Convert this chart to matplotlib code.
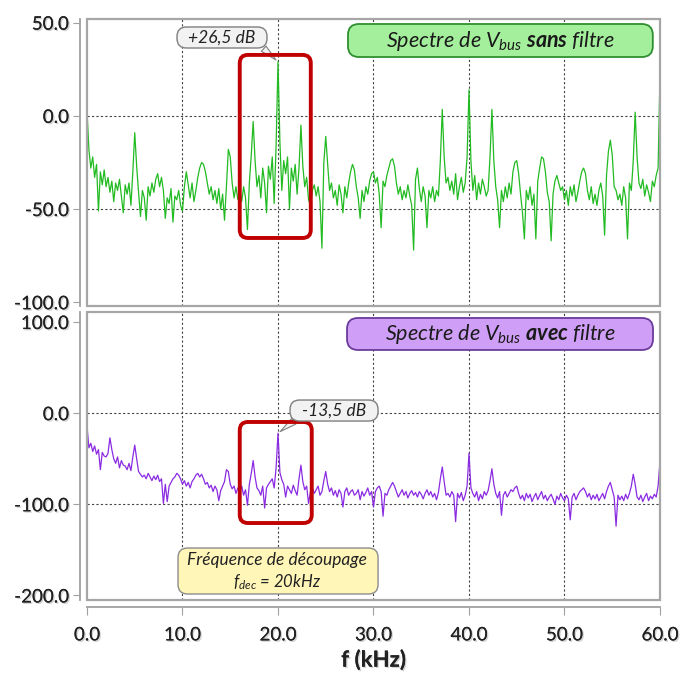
import numpy as np
import matplotlib
matplotlib.use("Agg")
import matplotlib.pyplot as plt
from matplotlib.patches import FancyBboxPatch, Rectangle
import matplotlib.patheffects as pe

plt.rcParams['font.family'] = ['Lato', 'DejaVu Sans']
plt.rcParams['mathtext.fontset'] = 'custom'
plt.rcParams['mathtext.it'] = 'Lato:italic'
plt.rcParams['mathtext.rm'] = 'Lato:italic'
plt.rcParams['mathtext.bf'] = 'Lato:italic:bold'

# frequency axis, kHz (one value every 0.2 kHz)
freq = np.arange(301) * 0.2

# spectre de Vbus sans filtre (dB)
sans_filtre = [
    3, -18, -28, -22, -33, -26, -51, -30, -37, -29,
    -38, -33, -41, -35, -46, -36, -40, -34, -43, -52,
    -37, -42, -36, -48, -30, -9, -27, -41, -54, -40,
    -44, -56, -38, -43, -36, -41, -34, -31, -38, -33,
    -40, -55, -44, -47, -39, -57, -43, -45, -40, -48,
    -51, -38, -30, -37, -44, -36, -46, -40, -33, -28,
    -25, -26, -30, -36, -42, -38, -45, -40, -47, -39,
    -50, -42, -56, -38, -18, -22, -36, -44, -38, -45,
    -40, -46, -38, -44, -61, -36, -21, -3, -24, -38,
    -32, -44, -28, -36, -52, -27, -34, -22, -47, -16,
    29, -14, -40, -24, -31, -22, -50, -28, -35, -26,
    -42, -28, -5, -27, -38, -33, -45, -48, -40, -37,
    -43, -38, -46, -71, -25, -11, -26, -40, -36, -44,
    -40, -48, -37, -42, -52, -38, -44, -36, -30, -26,
    -29, -38, -44, -55, -40, -46, -38, -42, -35, -31,
    -30, -36, -33, -42, -60, -35, -38, -32, -28, -24,
    -23, -27, -36, -42, -38, -45, -40, -44, -37, -43,
    -48, -72, -34, -28, -39, -46, -38, -43, -60, -40,
    -44, -38, -46, -40, -43, -24, 3.5, -22, -36, -33,
    -40, -35, -42, -31, -45, -38, -33, -41, -36, -22,
    14, -24, -40, -32, -45, -36, -42, -34, -38, -43,
    -40, -22, 3.5, -24, -38, -45, -60, -40, -46, -38,
    -44, -36, -42, -30, -25, -24, -31, -42, -52, -66,
    -40, -45, -38, -48, -42, -66, -35, -28, -22, -23,
    -30, -41, -46, -67, -42, -35, -32, -36, -40, -38,
    -45, -40, -48, -38, -43, -37, -46, -41, -35, -30,
    -28, -31, -40, -45, -38, -47, -42, -48, -40, -36,
    -43, -64, -32, -19, -13, -21, -38, -40, -45, -42,
    -48, -38, -44, -66, -36, -40, -24, 2, -22, -36,
    -39, -34, -43, -37, -41, -46, -35, -38, -32, -28,
    22,
]

# spectre de Vbus avec filtre (dB)
avec_filtre = [
    -14, -38, -33, -42, -36, -45, -40, -62, -43, -47,
    -48, -44, -27, -40, -50, -55, -48, -60, -52, -57,
    -58, -62, -55, -63, -48, -35, -50, -64, -67, -70,
    -68, -72, -66, -70, -74, -69, -73, -68, -75, -72,
    -99, -78, -97, -80, -76, -72, -70, -66, -68, -72,
    -78, -74, -80, -76, -82, -75, -72, -68, -66, -70,
    -67, -72, -78, -76, -82, -79, -86, -80, -84, -96,
    -85, -80, -75, -62, -64, -78, -83, -80, -88, -82,
    -86, -80, -90, -84, -101, -78, -66, -52, -70, -82,
    -85, -90, -80, -104, -82, -78, -75, -72, -82, -60,
    -22, -65, -73, -78, -92, -80, -84, -88, -79, -85,
    -90, -72, -57, -75, -84, -80, -99, -86, -82, -88,
    -84, -80, -90, -86, -74, -64, -78, -86, -82, -90,
    -85, -92, -84, -88, -103, -86, -82, -90, -86, -84,
    -90, -88, -84, -95, -86, -91, -87, -82, -90, -86,
    -103, -86, -82, -80, -86, -113, -88, -90, -84, -80,
    -76, -80, -86, -92, -88, -84, -90, -86, -93, -88,
    -85, -90, -87, -92, -86, -89, -94, -88, -84, -90,
    -86, -92, -88, -95, -87, -72, -59, -75, -90, -88,
    -92, -86, -90, -119, -88, -93, -87, -96, -90, -80,
    -44, -82, -88, -92, -86, -96, -89, -94, -86, -90,
    -85, -74, -61, -78, -88, -93, -86, -112, -90, -86,
    -92, -88, -84, -86, -82, -80, -88, -94, -90, -96,
    -88, -93, -89, -97, -92, -88, -95, -90, -86, -94,
    -90, -96, -92, -89, -94, -100, -91, -95, -88, -93,
    -96, -90, -94, -117, -92, -88, -95, -90, -86, -84,
    -82, -86, -92, -88, -95, -90, -94, -89, -96, -92,
    -88, -94, -86, -80, -76, -84, -92, -124, -90, -95,
    -91, -96, -89, -94, -88, -80, -67, -78, -92, -95,
    -90, -97, -92, -88, -96, -91, -94, -89, -92, -80,
    -53,
]

xticks = [0, 10, 20, 30, 40, 50, 60]
yticks_top = [50, 0, -50, -100]
yticks_bot = [100, 0, -100, -200]

fig = plt.figure(figsize=(6.85, 6.78), dpi=100)
ax1 = fig.add_axes([0.127, 0.5487, 0.8365, 0.4233])
ax2 = fig.add_axes([0.127, 0.115, 0.8365, 0.4248])

shadow = [pe.withSimplePatchShadow(offset=(1, -1), shadow_rgbFace='0.5', alpha=0.35), pe.Normal()]
grid_kw = dict(color='#444444', lw=0.8, ls=(0, (2, 2)), zorder=1)

for ax, y, col, ylim, yt, hgrid in [
        (ax1, sans_filtre, '#22bb22', (-102, 52), yticks_top, [0, -50]),
        (ax2, avec_filtre, '#8a2be2', (-205, 111), yticks_bot, [0, -100])]:
    ax.plot(freq, y, color=col, lw=0.9, zorder=2)
    ax.set_xlim(0, 60)
    ax.set_ylim(*ylim)
    ax.set_yticks(yt)
    ax.set_yticklabels(['%.1f' % v for v in yt])
    for v in xticks[1:-1]:
        ax.axvline(v, **grid_kw)
    for v in hgrid:
        ax.axhline(v, **grid_kw)
    for s in ['top', 'right', 'bottom']:
        ax.spines[s].set_visible(False)
    ax.spines['left'].set_position(('outward', 5))
    ax.spines['left'].set_color('#a0a0a0')
    ax.spines['left'].set_linewidth(1.3)
    ax.add_patch(Rectangle((0, 0), 1, 1, transform=ax.transAxes, fill=False,
                           ec='#a6a6a6', lw=1.6, clip_on=False, zorder=3))
    ax.tick_params(axis='y', direction='out', length=5, color='#a0a0a0',
                   labelsize=13.5, labelcolor='#222222', pad=3)
    for t in ax.get_yticklabels():
        t.set_path_effects(shadow)

ax1.set_xticks([])
ax2.set_xticks(xticks)
ax2.set_xticklabels(['%.1f' % v for v in xticks])
ax2.spines['bottom'].set_visible(True)
ax2.spines['bottom'].set_position(('outward', 5))
ax2.spines['bottom'].set_color('#a0a0a0')
ax2.spines['bottom'].set_linewidth(1.3)
ax2.tick_params(axis='x', direction='out', length=6, color='#a0a0a0',
                labelsize=13.5, labelcolor='#222222', pad=8)
for t in ax2.get_xticklabels():
    t.set_path_effects(shadow)
ax2.set_xlabel('f (kHz)', fontsize=16, fontweight='bold', color='#222222', labelpad=4,
               path_effects=shadow)


def box(x0, y0, w, h, fc, ec, lw=1.2, r=0.012):
    p = FancyBboxPatch((x0, y0), w, h, boxstyle='round,pad=0,rounding_size=%g' % r,
                       transform=fig.transFigure, fc=fc, ec=ec, lw=lw, zorder=5)
    fig.add_artist(p)


# red boxes around the switching frequency
box(0.350, 0.649, 0.1037, 0.270, 'none', '#c00000', lw=2.8, r=0.012)
box(0.350, 0.2286, 0.1051, 0.149, 'none', '#c00000', lw=2.8, r=0.012)

# titles
box(0.508, 0.9159, 0.445, 0.0487, '#a4ef9c', '#2f8f2f', lw=1.3, r=0.016)
fig.text(0.730, 0.940, r'Spectre de $V_{bus}$ $\mathbf{sans}$ filtre', fontsize=15.5,
         style='italic', ha='center', va='center', color='#1a1a1a', zorder=6)
box(0.5066, 0.4838, 0.4467, 0.0472, '#cf9ef6', '#6b3b9b', lw=1.3, r=0.016)
fig.text(0.730, 0.5074, r'Spectre de $V_{bus}$ $\mathbf{avec}$ filtre', fontsize=15.5,
         style='italic', ha='center', va='center', color='#1a1a1a', zorder=6)

# level call-outs
box(0.2584, 0.9292, 0.1314, 0.031, '#f2f2f2', '#7f7f7f', lw=1.0, r=0.014)
fig.text(0.324, 0.9447, '+26,5 dB', fontsize=12.5, style='italic', ha='center', va='center',
         color='#222222', zorder=6)
ax1.annotate('', xy=(20, 29), xycoords='data', xytext=(0.382, 0.931), textcoords='figure fraction',
             arrowprops=dict(arrowstyle='wedge,tail_width=0.5', fc='#f2f2f2', ec='#7f7f7f', lw=0.8),
             zorder=6, annotation_clip=False)
box(0.4234, 0.379, 0.1285, 0.031, '#f2f2f2', '#7f7f7f', lw=1.0, r=0.014)
fig.text(0.4876, 0.3946, '-13,5 dB', fontsize=12.5, style='italic', ha='center', va='center',
         color='#222222', zorder=6)
ax2.annotate('', xy=(20, -22), xycoords='data', xytext=(0.432, 0.381), textcoords='figure fraction',
             arrowprops=dict(arrowstyle='wedge,tail_width=0.5', fc='#f2f2f2', ec='#7f7f7f', lw=0.8),
             zorder=6, annotation_clip=False)

# switching frequency note
box(0.2599, 0.1239, 0.2920, 0.0678, '#fff6b8', '#8c8c8c', lw=1.0, r=0.014)
fig.text(0.4044, 0.174, 'Fréquence de découpage', fontsize=12.5, style='italic',
         ha='center', va='center', color='#222222', zorder=6)
fig.text(0.4044, 0.1416, r'$f_{dec}$ = 20kHz', fontsize=12, style='italic',
         ha='center', va='center', color='#222222', zorder=6)

fig.savefig('out.png', dpi=100)
